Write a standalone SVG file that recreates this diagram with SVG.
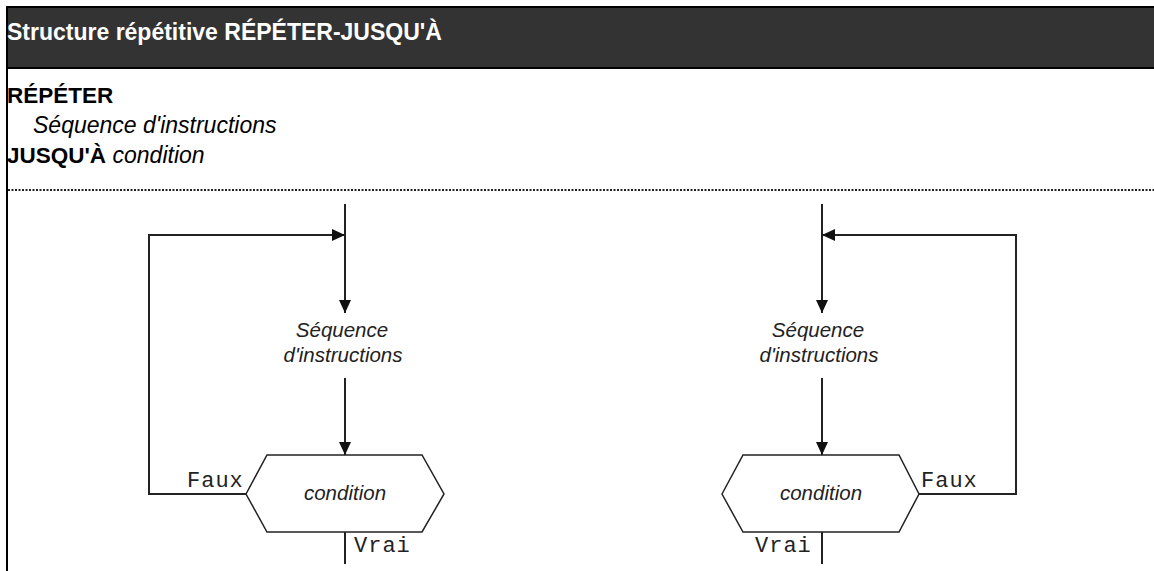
<svg xmlns="http://www.w3.org/2000/svg" width="1154" height="571" viewBox="0 0 1154 571">
  <style>
    .hdr { font-family: "Liberation Sans", Arial, sans-serif; font-weight: bold; font-size: 23px; fill: #ffffff; }
    .kw { font-family: "Liberation Sans", Arial, sans-serif; font-weight: bold; font-size: 22.5px; fill: #000; }
    .it { font-family: "Liberation Sans", Arial, sans-serif; font-style: italic; font-size: 23px; fill: #000; }
    .lbl { font-family: "Liberation Sans", Arial, sans-serif; font-style: italic; font-size: 20.5px; fill: #222; }
    .mono { font-family: "Liberation Mono", "Courier New", monospace; font-size: 22px; letter-spacing: 1px; fill: #222; }
    .ln { fill: none; stroke: #222; stroke-width: 2; }
    .hex { fill: #fff; stroke: #222; stroke-width: 1.5; }
  </style>
  <defs>
    <marker id="arr" markerUnits="userSpaceOnUse" markerWidth="13" markerHeight="12" refX="13" refY="6" orient="auto">
      <path d="M0,0 L13,6 L0,12 z" fill="#111"/>
    </marker>
  </defs>
  <rect x="0" y="0" width="1154" height="571" fill="#fff"/>
  <g id="header">
    <rect x="6" y="6" width="1148" height="63" fill="#000"/>
    <rect x="8" y="8" width="1146" height="59" fill="#333"/>
    <text class="hdr" x="7" y="40">Structure répétitive RÉPÉTER-JUSQU'À</text>
  </g>
  <line x1="7" y1="69" x2="7" y2="571" stroke="#000" stroke-width="2"/>
  <g id="pseudocode">
    <text class="kw" x="7" y="103">RÉPÉTER</text>
    <text class="it" x="33" y="133">Séquence d'instructions</text>
    <text x="7" y="163"><tspan class="kw">JUSQU'À</tspan><tspan class="it"> condition</tspan></text>
  </g>
  <line x1="8" y1="190" x2="1154" y2="190" stroke="#222" stroke-width="2" stroke-dasharray="2 1.5"/>

  <g id="seq-left">
    <text class="lbl" x="342" y="337" text-anchor="middle">Séquence</text>
    <text class="lbl" x="343" y="362" text-anchor="middle">d'instructions</text>
  </g>
  <g id="cond-left">
    <polygon class="hex" points="246,494 267,455 422,455 444,494 422,532 267,532"/>
    <text class="lbl" x="345" y="500" text-anchor="middle">condition</text>
  </g>
  <g id="seq-right">
    <text class="lbl" x="818" y="337" text-anchor="middle">Séquence</text>
    <text class="lbl" x="819" y="362" text-anchor="middle">d'instructions</text>
  </g>
  <g id="cond-right">
    <polygon class="hex" points="722,494 743,455 899,455 919,494 899,532 743,532"/>
    <text class="lbl" x="821" y="500" text-anchor="middle">condition</text>
  </g>

  <g id="connectors">
    <line class="ln" x1="345" y1="204" x2="345" y2="313" marker-end="url(#arr)"/>
    <line class="ln" x1="345" y1="378" x2="345" y2="455" marker-end="url(#arr)"/>
    <polyline class="ln" points="246,494 149,494 149,235 345,235" marker-end="url(#arr)"/>
    <line class="ln" x1="345" y1="532" x2="345" y2="564"/>
    <text class="mono" x="187" y="487">Faux</text>
    <text class="mono" x="354" y="552">Vrai</text>
    <line class="ln" x1="822" y1="204" x2="822" y2="313" marker-end="url(#arr)"/>
    <line class="ln" x1="822" y1="378" x2="822" y2="455" marker-end="url(#arr)"/>
    <polyline class="ln" points="919,494 1016,494 1016,235 822,235" marker-end="url(#arr)"/>
    <line class="ln" x1="822" y1="532" x2="822" y2="564"/>
    <text class="mono" x="921" y="487">Faux</text>
    <text class="mono" x="755" y="552">Vrai</text>
  </g>
</svg>
